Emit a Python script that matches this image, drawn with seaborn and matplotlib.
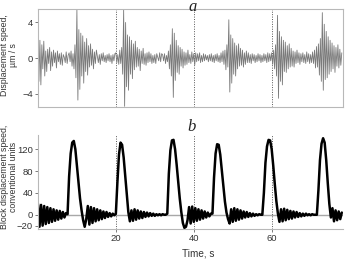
import matplotlib
matplotlib.use("Agg")
import matplotlib.pyplot as plt
import seaborn as sns
import pandas as pd
import numpy as np

# panel a: displacement speed (um/s), sampled every 0.25 s
noise_step = 0.25
displacement_speed = [
    1.8, -2.6, 2.0, -3.0, 1.5, -1.2, 1.9, -2.0,
    0.8, -1.5, 1.0, -0.6, 1.2, -1.4, 0.7, -0.9,
    0.9, -0.5, 0.6, -1.1, 0.8, -0.4, 0.5, -0.7,
    0.6, -0.8, 0.4, 0.1, -0.5, 0.7, -0.6, 0.3,
    0.6, -0.4, 0.8, -0.9, 0.5, -1.2, 1.5, -2.2,
    5.4, -4.7, 3.2, -3.5, 2.8, -2.0, 2.5, -2.8,
    1.8, -1.5, 2.2, -1.9, 1.4, -1.0, 1.6, -0.8,
    1.0, -1.2, 0.7, -0.6, 0.9, 0.2, -0.5, 0.4,
    -0.7, 0.5, -0.3, 0.6, -0.4, 0.3, -0.5, 0.4,
    -0.3, 0.5, -0.4, 0.3, -0.6, 0.4, -0.3, 0.5,
    0.6, -0.5, 0.4, -0.7, 0.9, -0.6, 1.2, -1.8,
    5.4, -5.4, 4.0, -3.2, 2.6, -3.6, 2.4, -1.8,
    2.0, -2.3, 1.6, -1.3, 1.9, -1.0, 1.2, -0.9,
    1.0, -1.4, 0.8, -0.6, 1.1, -0.7, 0.5, -0.8,
    0.6, -0.5, 0.7, -0.4, 0.5, -0.6, 0.3, -0.5,
    0.4, -0.6, 0.5, 0.1, -0.3, 0.6, -0.4, 0.5,
    0.4, -0.3, 0.5, -0.6, 0.3, -0.4, 0.8, -1.2,
    1.5, -2.0, 3.3, -4.4, 2.8, -2.5, 2.0, -1.6,
    1.4, -1.8, 1.2, -0.9, 1.0, -1.1, 0.7, -0.8,
    0.6, -0.7, 0.9, -0.5, 0.4, -0.6, 0.7, -0.4,
    0.5, -0.8, 0.6, -0.4, 0.5, -0.3, 0.6, -0.5,
    0.3, -0.4, 0.5, -0.3, 0.4, -0.2, 0.3, -0.4,
    0.4, -0.3, 0.5, -0.4, 0.3, -0.5, 0.4, -0.3,
    0.5, -0.4, 0.3, -0.5, 0.6, -0.4, 0.8, -0.7,
    0.9, -1.3, 1.5, -1.0, 4.3, -3.8, 2.6, -2.8,
    2.2, -1.8, 1.7, -2.0, 1.4, -1.2, 1.6, -0.9,
    1.1, -0.8, 0.9, -1.0, 0.6, -0.7, 0.8, -0.5,
    0.6, -0.5, 0.4, -0.6, 0.5, -0.3, 0.4, -0.5,
    0.3, -0.4, 0.5, -0.3, 0.4, -0.5, 0.3, -0.4,
    0.5, -0.3, 0.4, -0.5, 0.6, -0.4, 0.5, -0.3,
    0.6, -0.7, 0.9, -1.2, 1.5, -2.0, 4.8, -4.5,
    3.0, -2.6, 2.4, -3.0, 2.0, -1.5, 1.8, -1.6,
    1.4, -1.2, 1.6, -1.0, 1.1, -0.9, 0.8, -1.0,
    0.7, -0.6, 0.9, -0.5, 0.6, -0.7, 0.5, -0.4,
    0.6, -0.5, 0.4, -0.6, 0.7, -0.4, 0.5, -0.6,
    0.4, -0.5, 0.7, -0.6, 0.9, -1.1, 1.3, -1.0,
    1.6, -1.9, 2.2, -2.6, 5.1, -3.6, 3.8, -2.4,
    3.0, -2.2, 2.4, -1.8, 2.0, -1.5, 1.7, -1.2,
    1.4, -1.6, 1.2, -0.9, 1.5, -1.1, 1.0, -0.8,
    0.6,
]

# panel b: block displacement speed (conventional units), sampled every 0.4 s
block_step = 0.4
block_speed = [
    20, -22, 18, -20, 16, -17, 14, -15, 12, -13,
    10, -11, 8, -9, 7, -7, 5, -5, 3, 1,
    70, 112, 132, 135, 120, 90, 58, 30, 8, -10,
    -22, -8, 16, -18, 14, -15, 12, -12, 10, -10,
    8, -8, 6, -6, 5, -4, 3, -3, 2, -1,
    2, 60, 110, 132, 128, 105, 72, 38, 5, -12,
    8, -11, 10, -9, 8, -7, 6, -6, 5, -4,
    4, -3, 3, -2, 2, -2, 1, -1, 1, -1,
    1, 0, 0, 2, 75, 118, 136, 137, 120, 92,
    60, 30, 5, -15, -24, -22, -10, 14, -16, 15,
    -13, 12, -11, 10, -9, 8, -7, 6, -5, 4,
    -3, 2, 2, 68, 112, 129, 128, 110, 82, 52,
    24, 4, -8, -16, 10, -13, 12, -11, 10, -9,
    8, -7, 6, -5, 5, -4, 3, -3, 2, -2,
    1, -1, 1, 0, 0, 40, 95, 125, 137, 136,
    120, 90, 56, 25, 2, -13, 10, -12, 11, -10,
    9, -8, 7, -7, 6, -5, 5, -4, 3, -3,
    2, -2, 2, -1, 1, -1, 1, 0, 0, 0,
    45, 100, 130, 140, 132, 100, 58, 20, -5, 12,
    -12, 8, -10, 6, -8, 4,
]

marker_times = [20, 40, 60]
top_yticks = [-4, 0, 4]
bottom_yticks = [-20, 0, 40, 80, 120]
bottom_xticks = [20, 40, 60]

df_a = pd.DataFrame({"time": np.arange(len(displacement_speed)) * noise_step,
                     "speed": displacement_speed})
df_b = pd.DataFrame({"time": np.arange(len(block_speed)) * block_step,
                     "speed": block_speed})

sns.set_theme(style="white")
plt.rcParams["font.family"] = ["Liberation Sans", "DejaVu Sans"]

fig = plt.figure(figsize=(3.58, 2.59), dpi=100)
ax1 = fig.add_axes([0.106, 0.586, 0.852, 0.379])
ax2 = fig.add_axes([0.106, 0.116, 0.852, 0.363])

spine_col = "#b8b8b8"
text_col = "#333333"

# top panel
sns.lineplot(data=df_a, x="time", y="speed", ax=ax1, color="#7a7a7a", lw=0.6)
for t in marker_times:
    ax1.axvline(t, color="#555555", ls=(0, (1, 1.5)), lw=0.7, zorder=0)
ax1.set_xlim(0, 78.3)
ax1.set_ylim(-5.5, 5.5)
ax1.set_yticks(top_yticks)
ax1.set_xticks([])
ax1.set_xlabel("")
ax1.set_ylabel("")
for s in ax1.spines.values():
    s.set_color(spine_col)
    s.set_linewidth(0.8)
ax1.tick_params(axis="y", left=True, length=2, width=0.6, color="#666666",
                labelsize=6.8, pad=1.5, labelcolor=text_col)

# bottom panel
ax2.axhline(0, color="#a8a8a8", lw=1.0, zorder=0)
for t in marker_times:
    ax2.axvline(t, color="#555555", ls=(0, (1, 1.5)), lw=0.7, zorder=0)
sns.lineplot(data=df_b, x="time", y="speed", ax=ax2, color="black", lw=1.8)
ax2.set_xlim(0, 78.3)
ax2.set_ylim(-26, 146)
ax2.set_yticks(bottom_yticks)
ax2.set_xticks(bottom_xticks)
ax2.set_xlabel("")
ax2.set_ylabel("")
ax2.spines["top"].set_visible(False)
ax2.spines["right"].set_visible(False)
for side in ["left", "bottom"]:
    ax2.spines[side].set_color(spine_col)
    ax2.spines[side].set_linewidth(0.8)
ax2.tick_params(axis="both", left=True, bottom=True, length=2, width=0.6,
                color="#666666", labelsize=6.8, pad=1.5, labelcolor=text_col)

# labels
fig.text(0.024, 0.788, "Displacement speed,\nµm / s", rotation=90,
         ha="center", va="center", fontsize=6.3, color=text_col,
         multialignment="center", linespacing=1.0)
fig.text(0.024, 0.318, "Block displacement speed,\nconventional units", rotation=90,
         ha="center", va="center", fontsize=6.3, color=text_col,
         multialignment="center", linespacing=1.0)
fig.text(0.553, 0.022, "Time, s", ha="center", va="center", fontsize=7.2,
         color=text_col)
fig.text(0.539, 0.972, "a", ha="center", va="center", fontsize=12,
         family="Liberation Serif", style="italic", color="#222222")
fig.text(0.535, 0.51, "b", ha="center", va="center", fontsize=12,
         family="Liberation Serif", style="italic", color="#222222")

fig.savefig("out.png", dpi=100)
